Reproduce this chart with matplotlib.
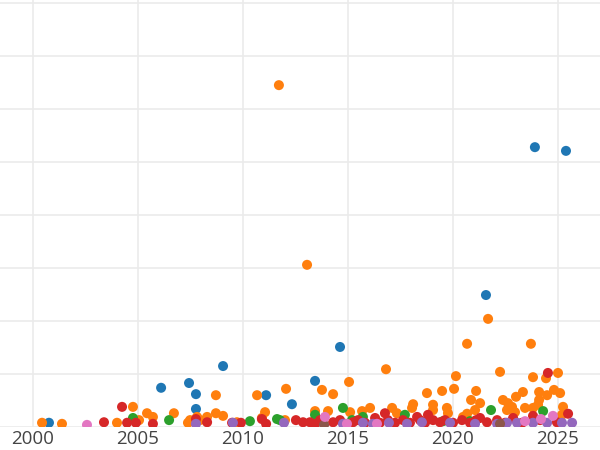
import matplotlib
matplotlib.use("Agg")
import matplotlib.pyplot as plt

# values (year, value in grid units)
blue_year = [2000.76, 2006.10, 2007.43, 2007.76, 2007.76, 2009.05, 2011.10, 2012.33,
             2013.43, 2014.62, 2021.57, 2023.90, 2025.38]
blue_val = [0.08, 0.74, 0.83, 0.62, 0.34, 1.15, 0.60, 0.43,
            0.87, 1.51, 2.49, 5.28, 5.21]

orange_year = [2000.43, 2001.38, 2004.00, 2004.76, 2005.05, 2005.43, 2005.71, 2006.71,
               2007.38, 2007.48, 2007.81, 2007.95, 2008.29, 2008.71, 2008.71, 2009.05,
               2009.71, 2010.67, 2010.90, 2011.05, 2011.71, 2012.00, 2012.05, 2013.05,
               2013.43, 2013.76, 2014.05, 2014.29, 2015.05, 2015.10, 2015.67, 2016.05,
               2016.81, 2017.10, 2017.33, 2018.05, 2018.10, 2018.76, 2019.05, 2019.05,
               2019.48, 2019.71, 2019.76, 2020.05, 2020.14, 2020.48, 2020.67, 2020.67,
               2020.86, 2021.05, 2021.10, 2021.29, 2021.67, 2022.24, 2022.38, 2022.62,
               2022.81, 2022.57, 2022.95, 2023.00, 2023.33, 2023.43, 2023.71, 2023.81,
               2023.81, 2024.05, 2024.10, 2024.10, 2024.43, 2024.48, 2024.81, 2025.00,
               2025.10, 2025.24, 2025.19]
orange_val = [0.08, 0.06, 0.08, 0.38, 0.13, 0.26, 0.19, 0.26,
              0.08, 0.13, 0.19, 0.13, 0.19, 0.26, 0.60, 0.21,
              0.09, 0.60, 0.17, 0.28, 6.45, 0.13, 0.72, 3.06,
              0.30, 0.70, 0.30, 0.62, 0.85, 0.28, 0.30, 0.36,
              1.09, 0.36, 0.26, 0.36, 0.43, 0.64, 0.42, 0.32,
              0.68, 0.36, 0.26, 0.72, 0.96, 0.19, 0.25, 1.57,
              0.51, 0.32, 0.68, 0.45, 2.04, 1.04, 0.51, 0.45,
              0.38, 0.32, 0.28, 0.57, 0.66, 0.36, 1.57, 0.94,
              0.36, 0.42, 0.66, 0.51, 0.92, 0.60, 0.70, 1.02,
              0.64, 0.38, 0.23]

green_year = [2004.76, 2006.48, 2010.33, 2011.62, 2011.76, 2013.43, 2014.76, 2015.19,
              2015.71, 2017.71, 2019.52, 2020.81, 2021.81, 2024.29]
green_val = [0.17, 0.13, 0.11, 0.15, 0.13, 0.23, 0.36, 0.13,
             0.19, 0.23, 0.11, 0.11, 0.32, 0.30]

red_year = [2003.38, 2004.24, 2004.48, 2004.90, 2005.71, 2007.76, 2008.29, 2009.48,
            2009.90, 2010.90, 2011.10, 2012.52, 2012.86, 2013.19, 2013.43, 2013.67,
            2014.29, 2014.62, 2014.86, 2015.24, 2015.48, 2015.81, 2016.29, 2016.52,
            2016.76, 2016.90, 2017.24, 2017.62, 2017.95, 2018.29, 2018.43, 2018.67,
            2018.81, 2019.05, 2019.38, 2019.62, 2020.00, 2020.43, 2020.81, 2021.10,
            2021.29, 2021.62, 2022.10, 2022.48, 2022.86, 2023.29, 2023.81, 2024.14,
            2024.52, 2024.95, 2025.48]
red_val = [0.09, 0.38, 0.08, 0.08, 0.06, 0.15, 0.09, 0.08,
           0.08, 0.15, 0.06, 0.13, 0.09, 0.09, 0.06, 0.13,
           0.09, 0.13, 0.06, 0.09, 0.13, 0.08, 0.17, 0.08,
           0.26, 0.13, 0.08, 0.13, 0.08, 0.19, 0.13, 0.08,
           0.23, 0.13, 0.09, 0.13, 0.08, 0.13, 0.08, 0.13,
           0.17, 0.09, 0.13, 0.08, 0.17, 0.08, 0.21, 0.13,
           1.02, 0.09, 0.25]

purple_year = [2007.76, 2009.52, 2011.95, 2014.76, 2015.71, 2016.19, 2016.95, 2017.81,
               2018.52, 2019.86, 2021.05, 2022.10, 2022.57, 2023.05, 2023.81, 2024.48,
               2025.19, 2025.67]
purple_val = [0.06, 0.08, 0.08, 0.06, 0.08, 0.06, 0.08, 0.06,
              0.09, 0.08, 0.06, 0.06, 0.08, 0.08, 0.08, 0.08,
              0.08, 0.08]

brown_year = [2013.86, 2022.24]
brown_val = [0.04, 0.06]

pink_year = [2002.57, 2013.90, 2014.95, 2016.38, 2023.43, 2024.19, 2024.76]
pink_val = [0.04, 0.19, 0.06, 0.06, 0.11, 0.15, 0.21]

series = [
    (blue_year, blue_val, "#1f77b4"),
    (orange_year, orange_val, "#ff7f0e"),
    (green_year, green_val, "#2ca02c"),
    (red_year, red_val, "#d62728"),
    (purple_year, purple_val, "#9467bd"),
    (brown_year, brown_val, "#8c564b"),
    (pink_year, pink_val, "#e377c2"),
]

fig = plt.figure(figsize=(6, 4.5), dpi=100)
ax = fig.add_axes([0, 23 / 450, 1, 427 / 450])

for xs, ys, col in series:
    ax.scatter(xs, ys, s=52, color=col, edgecolors="none", zorder=3)

ax.set_xlim(2000 - 33 / 21, 2000 + 567 / 21)
ax.set_ylim(0, 427 / 53)
ax.set_xticks([2000, 2005, 2010, 2015, 2020, 2025])
ax.set_yticks(range(0, 9))
ax.set_yticklabels([])
ax.grid(True, color="#ebebeb", linewidth=1.2, zorder=0)
ax.set_axisbelow(True)
for sp in ax.spines.values():
    sp.set_visible(False)
ax.tick_params(axis="both", length=0)
ax.tick_params(axis="x", labelsize=13.5, labelcolor="#444444", pad=2)
for lab in ax.get_xticklabels():
    lab.set_fontfamily("Open Sans")

fig.savefig("out.png", dpi=100)
